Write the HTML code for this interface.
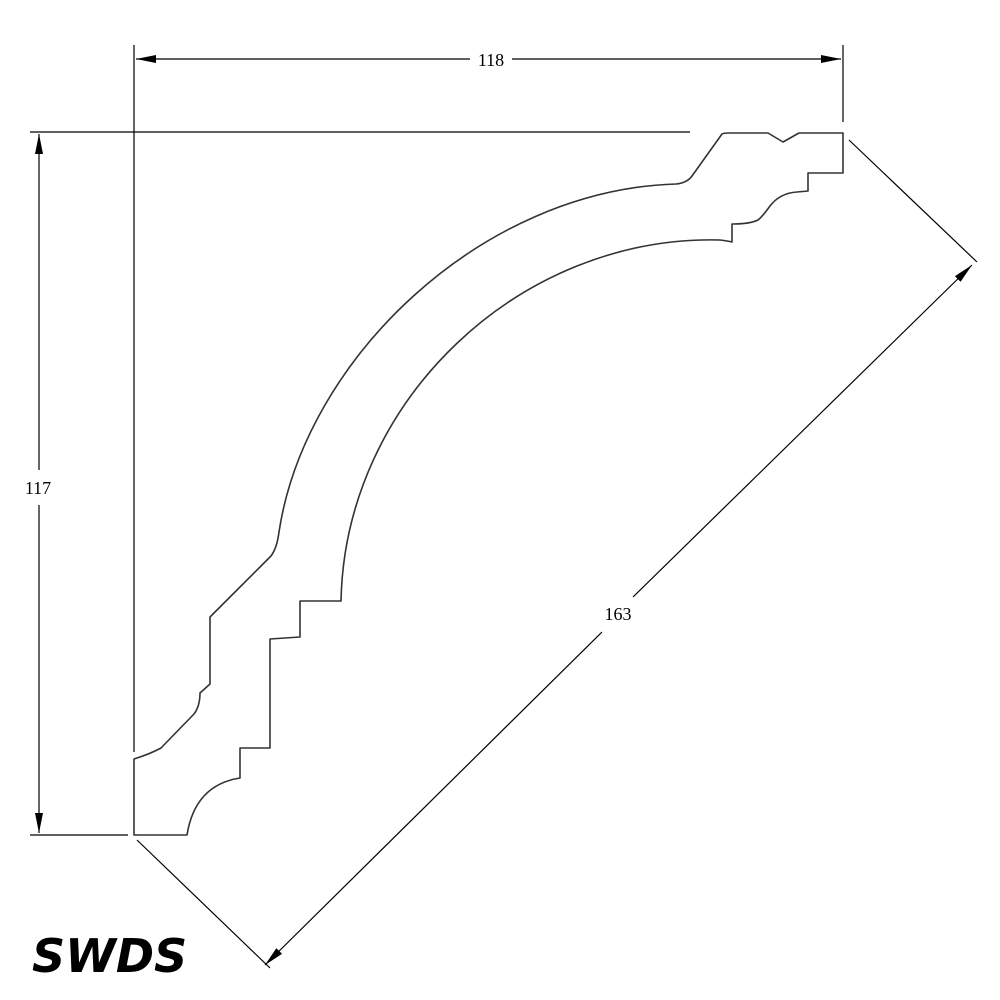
<!DOCTYPE html>
<html><head><style>html,body{margin:0;padding:0;background:#fff}svg{display:block}</style></head>
<body>
<svg width="1000" height="1000" viewBox="0 0 1000 1000" xmlns="http://www.w3.org/2000/svg">
<defs>
<marker id="a" viewBox="0 0 20 8" refX="20" refY="4" markerWidth="20" markerHeight="8" orient="auto" markerUnits="userSpaceOnUse">
<path d="M0,0 L20,4 L0,8 Z" fill="#000"/></marker>
</defs>
<rect width="1000" height="1000" fill="#fff"/>
<g stroke="#000" stroke-width="1.2" fill="none">
<line x1="134" y1="45" x2="134" y2="752"/>
<line x1="843" y1="45" x2="843" y2="122"/>
<line x1="30" y1="132" x2="690" y2="132"/>
<line x1="30" y1="835" x2="128" y2="835"/>
<line x1="849" y1="140" x2="977" y2="262"/>
<line x1="137" y1="840" x2="270" y2="968"/>
<line x1="470" y1="59" x2="136" y2="59" marker-end="url(#a)"/>
<line x1="512" y1="59" x2="841" y2="59" marker-end="url(#a)"/>
<line x1="39" y1="470" x2="39" y2="134" marker-end="url(#a)"/>
<line x1="39" y1="505" x2="39" y2="833" marker-end="url(#a)"/>
<line x1="633" y1="597" x2="972" y2="265" marker-end="url(#a)"/>
<line x1="602" y1="632" x2="265" y2="965" marker-end="url(#a)"/>
</g>
<g stroke="#333" stroke-width="1.6" fill="none" stroke-linejoin="round">
<path d="M134,759 Q150,754 161,748 L194,714 Q200,706 200,693 L210,684 L210,617 L271,556 Q277,548 279,532 C305,360 480,190 676,184 Q687,183 692,176 L722,134 Q724,133 728,133 L768,133 L783,142 L799,133 L843,133 L843,173 L808,173 L808,191 L797,192 Q780,193 770,206 Q762,217 758,220 Q750,224 732,224 L732,242 Q728,241 720,240 C520,235 345,400 341,601 L300,601 L300,637 L270,639 L270,748 L240,748 L240,778 Q195,785 187,835 L134,835 Z"/>
</g>
<g font-family="'Liberation Serif',serif" font-size="18" fill="#000" text-anchor="middle">
<text x="491" y="66">118</text>
<text x="38" y="494">117</text>
<text x="618" y="620">163</text>
</g>
<text x="32" y="972" font-family="'DejaVu Sans',sans-serif" font-weight="bold" font-style="italic" font-size="46" fill="#000">SWDS</text>
</svg>
</body></html>
